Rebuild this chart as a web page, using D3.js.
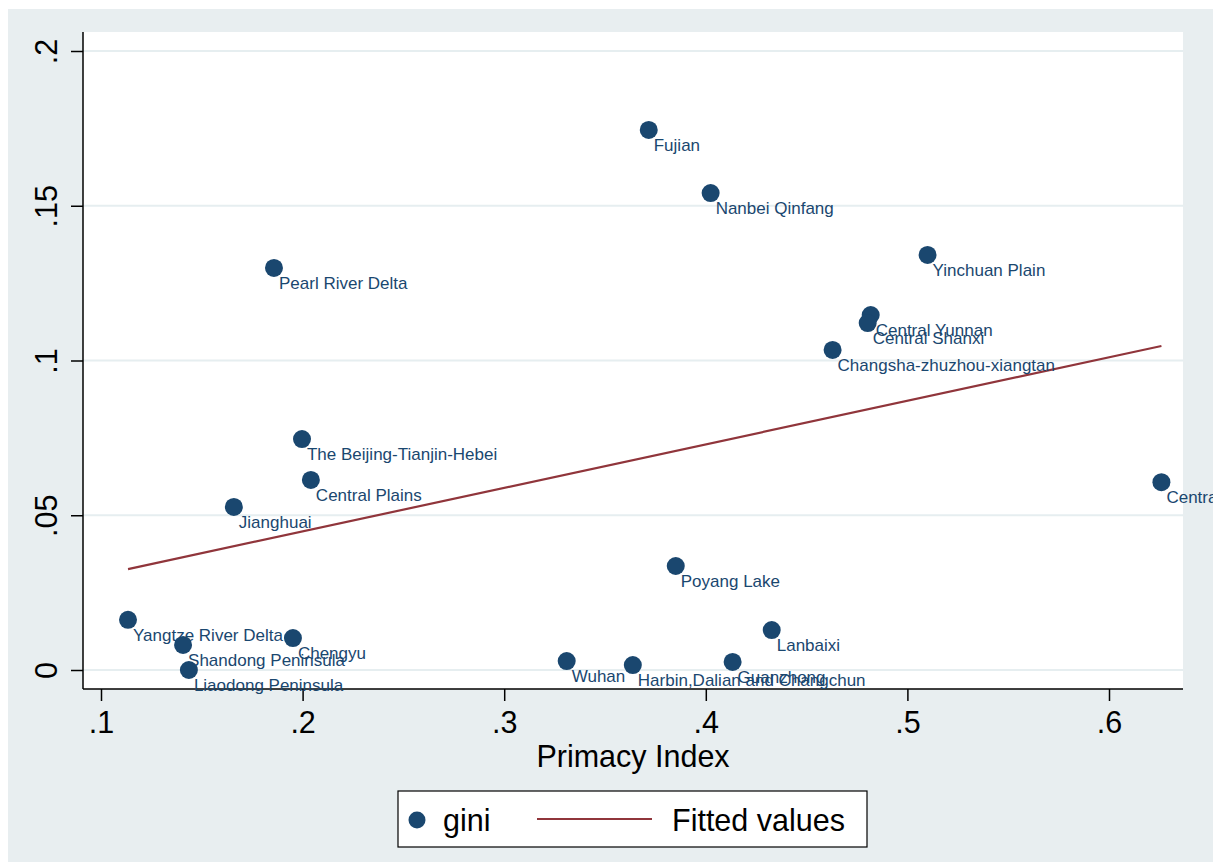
<!DOCTYPE html>
<html>
<head>
<meta charset="utf-8">
<script src="https://cdn.jsdelivr.net/npm/d3@7"></script>
<style>
  body { margin: 0; background: #fff; }
  svg { display: block; font-family: "Liberation Sans", Arial, sans-serif; }
</style>
</head>
<body>
<div id="chart"></div>
<script>
// regions, primacy index (x) and gini (y)
const regions = ["Fujian", "Nanbei Qinfang", "Yinchuan Plain", "Pearl River Delta",
  "Central Yunnan", "Central Shanxi", "Changsha-zhuzhou-xiangtan",
  "The Beijing-Tianjin-Hebei", "Central Plains", "Jianghuai", "Central Guizhou",
  "Poyang Lake", "Yangtze River Delta", "Shandong Peninsula", "Liaodong Peninsula",
  "Chengyu", "Wuhan", "Harbin,Dalian and Changchun", "Guanzhong", "Lanbaixi"];
const primacy = [0.3717, 0.4024, 0.5100, 0.1858, 0.4818, 0.4803, 0.4629,
  0.1997, 0.2041, 0.1659, 0.6260, 0.3851, 0.1134, 0.1407, 0.1436,
  0.1952, 0.3310, 0.3638, 0.4133, 0.4327];
const gini = [0.1745, 0.1541, 0.1341, 0.1299, 0.1147, 0.1121, 0.1034,
  0.0746, 0.0614, 0.0527, 0.0607, 0.0336, 0.0162, 0.0081, 0.0000,
  0.0103, 0.0029, 0.0016, 0.0026, 0.0129];

// fitted values (ends of the regression line)
const fitX = [0.1134, 0.6260];
const fitY = [0.0326, 0.1047];

const xTicks = [0.1, 0.2, 0.3, 0.4, 0.5, 0.6];
const yTicks = [0, 0.05, 0.1, 0.15, 0.2];
const xTickLabels = [".1", ".2", ".3", ".4", ".5", ".6"];
const yTickLabels = ["0", ".05", ".1", ".15", ".2"];

const width = 1213, height = 862;
const navy = "#1a476f", maroon = "#90353b";
const bigFont = 30.5, labelFont = 17;

const plot = { left: 83, right: 1183, top: 32, bottom: 689 };

const svg = d3.select("#chart").append("svg")
  .attr("width", width)
  .attr("height", height);

// outer graph region
svg.append("rect")
  .attr("x", 8).attr("y", 9)
  .attr("width", width - 8).attr("height", height - 9)
  .attr("fill", "#e8eef0");

svg.append("rect")
  .attr("x", plot.left).attr("y", plot.top)
  .attr("width", plot.right - plot.left).attr("height", plot.bottom - plot.top)
  .attr("fill", "#fff");

const x = d3.scaleLinear().domain([0.1, 0.6]).range([101, 1109]);
const y = d3.scaleLinear().domain([0, 0.2]).range([670, 51]);

// gridlines
svg.append("g").selectAll("line")
  .data(yTicks)
  .join("line")
  .attr("x1", plot.left).attr("x2", plot.right)
  .attr("y1", d => y(d)).attr("y2", d => y(d))
  .attr("stroke", "#e6eef0")
  .attr("stroke-width", 2);

// y axis
const yAxis = svg.append("g")
  .attr("transform", `translate(${plot.left},0)`)
  .call(d3.axisLeft(y).tickValues(yTicks).tickSize(12).tickFormat((d, i) => yTickLabels[i]));
yAxis.select(".domain")
  .attr("d", `M0,${plot.top}V${plot.bottom}`)
  .attr("stroke", "#000").attr("stroke-width", 1.5);
yAxis.selectAll(".tick line").attr("stroke", "#000").attr("stroke-width", 1.5);
yAxis.selectAll(".tick text")
  .attr("font-size", bigFont)
  .attr("fill", "#000")
  .attr("text-anchor", "middle")
  .attr("x", null).attr("dy", null)
  .attr("transform", "translate(-26,0) rotate(-90)");

// x axis
const xAxis = svg.append("g")
  .attr("transform", `translate(0,${plot.bottom})`)
  .call(d3.axisBottom(x).tickValues(xTicks).tickSize(12).tickFormat((d, i) => xTickLabels[i]));
xAxis.select(".domain")
  .attr("d", `M${plot.left},0H${plot.right}`)
  .attr("stroke", "#000").attr("stroke-width", 1.5);
xAxis.selectAll(".tick line").attr("stroke", "#000").attr("stroke-width", 1.5);
xAxis.selectAll(".tick text")
  .attr("font-size", bigFont)
  .attr("fill", "#000")
  .attr("y", 44).attr("dy", null);

svg.append("text")
  .attr("x", (plot.left + plot.right) / 2)
  .attr("y", 767)
  .attr("text-anchor", "middle")
  .attr("font-size", bigFont)
  .text("Primacy Index");

// fitted line
const fit = fitX.map((d, i) => [d, fitY[i]]);
svg.append("path")
  .datum(fit)
  .attr("d", d3.line().x(d => x(d[0])).y(d => y(d[1])))
  .attr("fill", "none")
  .attr("stroke", maroon)
  .attr("stroke-width", 2.2);

// points and labels
const points = regions.map((r, i) => ({ name: r, px: primacy[i], g: gini[i] }));

svg.append("g").selectAll("circle")
  .data(points)
  .join("circle")
  .attr("cx", d => x(d.px))
  .attr("cy", d => y(d.g))
  .attr("r", 9)
  .attr("fill", navy);

svg.append("g").selectAll("text")
  .data(points)
  .join("text")
  .attr("x", d => x(d.px) + 5)
  .attr("y", d => y(d.g) + 21)
  .attr("font-size", labelFont)
  .attr("fill", navy)
  .text(d => d.name);

// legend
const legend = svg.append("g");
legend.append("rect")
  .attr("x", 398).attr("y", 791)
  .attr("width", 469).attr("height", 56)
  .attr("fill", "#fff")
  .attr("stroke", "#000")
  .attr("stroke-width", 1.2);
legend.append("circle")
  .attr("cx", 417).attr("cy", 820).attr("r", 8.5)
  .attr("fill", navy);
legend.append("text")
  .attr("x", 443).attr("y", 831)
  .attr("font-size", bigFont)
  .text("gini");
legend.append("line")
  .attr("x1", 537).attr("x2", 652)
  .attr("y1", 819).attr("y2", 819)
  .attr("stroke", maroon)
  .attr("stroke-width", 2.2);
legend.append("text")
  .attr("x", 672).attr("y", 831)
  .attr("font-size", bigFont)
  .text("Fitted values");
</script>
</body>
</html>
